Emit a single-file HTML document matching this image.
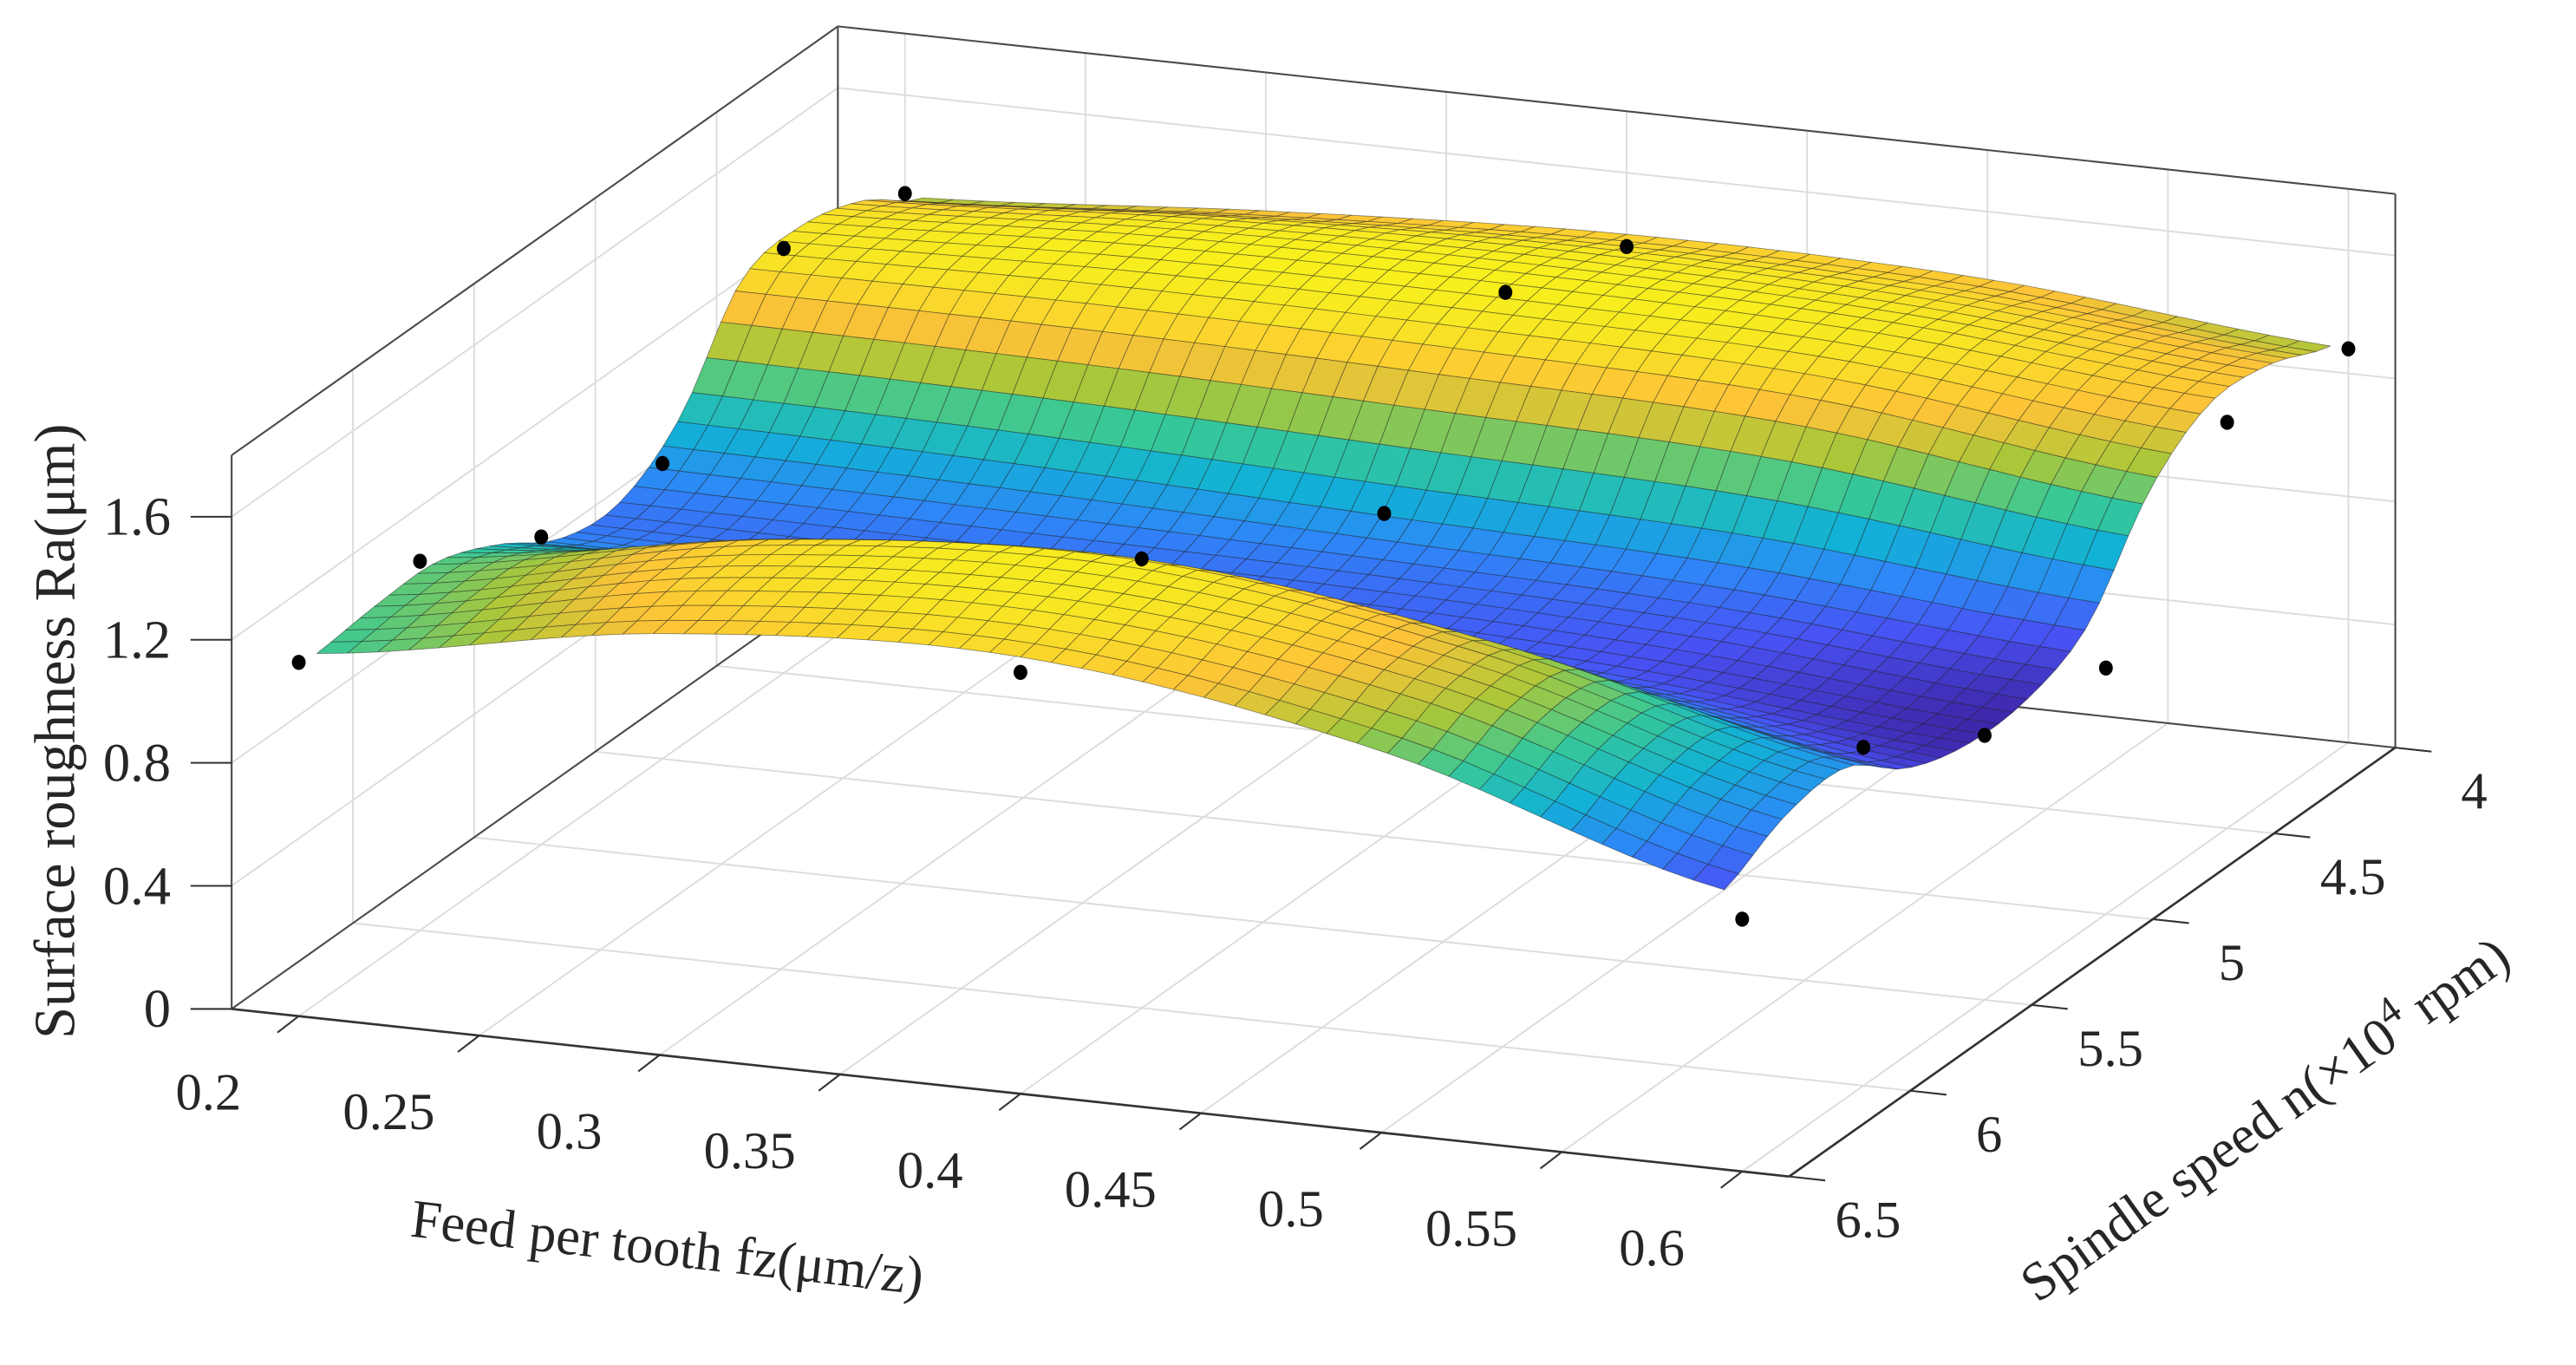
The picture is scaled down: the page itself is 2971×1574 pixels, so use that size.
<!DOCTYPE html>
<html><head><meta charset="utf-8">
<style>
html,body{margin:0;padding:0;background:#fff;}
svg{display:block;}
svg text{font-family:"Liberation Serif","DejaVu Serif",serif;fill:#262626;}
</style></head>
<body>
<svg id="chart" width="2971" height="1574" viewBox="0 0 1568 830.7" preserveAspectRatio="none" xmlns="http://www.w3.org/2000/svg" font-family="'Liberation Serif', 'DejaVu Serif', serif">
<g id="walls"></g>
<g id="surf"></g>
<g id="dots"></g>
<g id="axes"></g>
<text x="0" y="0" font-family="Liberation Serif, serif" font-size="35" text-anchor="middle" transform="translate(45,445) rotate(-90)">Surface roughness Ra(μm)</text>
<text x="0" y="0" font-family="Liberation Serif, serif" font-size="33" text-anchor="middle" transform="translate(405,770) rotate(6.5)">Feed per tooth fz(μm/z)</text>
<text x="0" y="0" font-family="Liberation Serif, serif" font-size="33" text-anchor="middle" transform="translate(1385,690) rotate(-35.5)">Spindle speed n(×10<tspan dy="-13" font-size="24">4</tspan><tspan dy="13"> rpm)</tspan></text>
</svg>
<script>
// ---- data ----
const fzNodes = [0.2, 0.3, 0.4, 0.5, 0.6];
const nNodes = [4, 4.25, 4.5, 4.75, 5, 5.25, 5.5, 5.75, 6, 6.25, 6.5];
const zRow400 = [1.27,1.35,1.40,1.38,1.28];
const zRow425 = [1.40,1.46,1.48,1.45,1.36];
const zRow450 = [1.46,1.50,1.50,1.47,1.37];
const zRow475 = [1.42,1.42,1.40,1.36,1.22];
const zRow500 = [1.12,1.10,1.06,1.02,0.93];
const zRow525 = [0.98,0.97,0.96,0.92,0.83];
const zRow550 = [1.00,0.99,0.98,0.92,0.82];
const zRow575 = [1.12,1.18,1.20,1.08,0.88];
const zRow600 = [1.20,1.40,1.46,1.30,1.02];
const zRow625 = [1.20,1.42,1.47,1.32,1.00];
const zRow650 = [1.18,1.37,1.42,1.24,0.90];
const zGrid = [zRow400,zRow425,zRow450,zRow475,zRow500,zRow525,zRow550,zRow575,zRow600,zRow625,zRow650];
const ptFz = [0.2,0.2,0.2,0.2,0.2,0.2, 0.4,0.4,0.4,0.4,0.4, 0.6,0.6,0.6,0.6,0.6,0.6];
const ptN  = [6.5,6,5.5,5,4.5,4, 6.5,6,5,4.5,4, 6.5,6,5.5,5,4.5,4];
const ptZ  = [1.15,1.20,1.00,0.96,1.38,1.28, 1.37,1.46,1.05,1.49,1.36, 0.82,1.10,0.86,0.80,1.32,1.28];
const fzTicks = [0.2,0.25,0.3,0.35,0.4,0.45,0.5,0.55,0.6];
const fzTickLabels = ["0.2","0.25","0.3","0.35","0.4","0.45","0.5","0.55","0.6"];
const nTicks = [4,4.5,5,5.5,6,6.5];
const nTickLabels = ["4","4.5","5","5.5","6","6.5"];
const zTicks = [0,0.4,0.8,1.2,1.6];
const zTickLabels = ["0","0.4","0.8","1.2","1.6"];

// ---- axes ----
const FZ0=0.1814, FZ1=0.613, N0=4, N1=6.5, ZMAX=1.8;
function P(fz,n,z){
  return [141 + (fz-FZ0)*2196.5 - (n-N1)*147.6,
          614 + (fz-FZ0)*236.3 + (n-N1)*104.4 - z*187.2];
}
const NS="http://www.w3.org/2000/svg";
function mk(tag,attrs,parent){const e=document.createElementNS(NS,tag);for(const k in attrs)e.setAttribute(k,attrs[k]);parent.appendChild(e);return e;}
function line(a,b,stroke,w,parent,name){
  const e=mk('line',{x1:a[0],y1:a[1],x2:b[0],y2:b[1],stroke:stroke,'stroke-width':w},parent);
  
  
  return e;
}
const walls=document.getElementById('walls');
const GRID='#dcdcdc', BOX='#4a4a4a';
zTicks.forEach(z=>{ if(z===0) return;
  line(P(FZ0,N1,z),P(FZ0,N0,z),GRID,1,walls,'z-grid-left');
  line(P(FZ0,N0,z),P(FZ1,N0,z),GRID,1,walls,'z-grid-back');
});
fzTicks.forEach(f=>{
  line(P(f,N0,0),P(f,N1,0),GRID,1,walls,'fz-grid-floor');
  line(P(f,N0,0),P(f,N0,ZMAX),GRID,1,walls,'fz-grid-back');
});
nTicks.forEach(n=>{
  line(P(FZ0,n,0),P(FZ1,n,0),GRID,1,walls,'n-grid-floor');
  line(P(FZ0,n,0),P(FZ0,n,ZMAX),GRID,1,walls,'n-grid-left');
});
line(P(FZ0,N1,0),P(FZ0,N1,ZMAX),BOX,1.1,walls,'box-edge');
line(P(FZ0,N0,0),P(FZ0,N0,ZMAX),BOX,1.1,walls,'box-edge');
line(P(FZ1,N0,0),P(FZ1,N0,ZMAX),BOX,1.1,walls,'box-edge');
line(P(FZ0,N1,ZMAX),P(FZ0,N0,ZMAX),BOX,1.1,walls,'box-edge');
line(P(FZ0,N0,ZMAX),P(FZ1,N0,ZMAX),BOX,1.1,walls,'box-edge');
line(P(FZ0,N1,0),P(FZ0,N0,0),BOX,1.1,walls,'box-edge');
line(P(FZ0,N0,0),P(FZ1,N0,0),BOX,1.1,walls,'box-edge');

// ---- surface ----
function cr(p0,p1,p2,p3,t){return 0.5*((2*p1)+(-p0+p2)*t+(2*p0-5*p1+4*p2-p3)*t*t+(-p0+3*p1-3*p2+p3)*t*t*t);}
function interp1(nodes,vals,x){
  let i=0; while(i<nodes.length-2 && x>nodes[i+1]) i++;
  const t=(x-nodes[i])/(nodes[i+1]-nodes[i]);
  const g=k=>vals[Math.max(0,Math.min(vals.length-1,k))];
  return cr(g(i-1),g(i),g(i+1),g(i+2),t);
}
function Z(fz,n){
  const col=zGrid.map(r=>interp1(fzNodes,r,fz));
  return interp1(nNodes,col,n);
}
const PAR=[[0,[62,38,168]],[0.125,[72,82,244]],[0.25,[46,135,247]],[0.375,[18,177,214]],[0.5,[55,200,151]],[0.625,[171,199,57]],[0.75,[254,195,56]],[0.875,[247,231,35]],[1,[249,251,21]]];
function parula(t){t=Math.max(0,Math.min(1,t));
  for(let i=0;i<PAR.length-1;i++){const a=PAR[i],b=PAR[i+1];
    if(t<=b[0]){const u=(t-a[0])/(b[0]-a[0]);
      return 'rgb('+a[1].map((c,k)=>Math.round(c+(b[1][k]-c)*u)).join(',')+')';}}
  return 'rgb(249,251,21)';
}
const surf=document.getElementById('surf');
const NF=46, NN=42, SF0=0.205, SF1=0.595;
const G=[];
let zmin=1e9,zmax=-1e9;
for(let j=0;j<=NN;j++){G.push([]);for(let i=0;i<=NF;i++){
  const f=SF0+(SF1-SF0)*i/NF, n=N0+(N1-N0)*j/NN, z=Z(f,n);
  zmin=Math.min(zmin,z);zmax=Math.max(zmax,z);G[j].push([f,n,z]);}}
const cMax = zmax + 0.05;
const faces=[];
for(let j=0;j<NN;j++)for(let i=0;i<NF;i++){
  const q=[G[j][i],G[j][i+1],G[j+1][i+1],G[j+1][i]];
  const zc=(q[0][2]+q[1][2]+q[2][2]+q[3][2])/4;
  const fc=(q[0][0]+q[1][0])/2, nc=(q[0][1]+q[3][1])/2;
  faces.push({q:q,zc:zc,d:P(fc,nc,0)[1]});
}
faces.sort((a,b)=>a.d-b.d);
faces.forEach(fc=>{
  const pts=fc.q.map(p=>P(p[0],p[1],p[2]).map(v=>v.toFixed(1)).join(',')).join(' ');
  const c=parula((fc.zc-zmin)/(cMax-zmin));
  const e=mk('polygon',{points:pts,fill:c,stroke:'rgba(30,30,30,0.5)','stroke-width':0.45,'stroke-linejoin':'round'},surf);
  
  
});

// ---- points ----
const dots=document.getElementById('dots');
ptZ.forEach((z,k)=>{
  const p=P(ptFz[k],ptN[k],z);
  const e=mk('ellipse',{cx:p[0],cy:p[1],rx:4.2,ry:4.6,fill:'#000'},dots);
  
  
});

// ---- axes, ticks, labels ----
const axes=document.getElementById('axes');
line(P(FZ0,N1,0),P(FZ1,N1,0),'#333',1.4,axes,'x-axis-line');
line(P(FZ1,N1,0),P(FZ1,N0,0),'#333',1.4,axes,'y-axis-line');
zTicks.forEach((z,k)=>{
  const p=P(FZ0,N1,z);
  line([p[0]-25,p[1]],p,'#333',1.1,axes,'z-tick');
  const t=mk('text',{x:104,y:p[1]+11,'font-size':33,'text-anchor':'end','font-family':'Liberation Serif, serif'},axes);
  t.textContent=zTickLabels[k];
  
  
});
fzTicks.forEach((f,k)=>{
  const p=P(f,N1,0);
  line(p,[p[0]-13,p[1]+10],'#333',1.1,axes,'x-tick');
  const t=mk('text',{x:p[0]-55,y:p[1]+57,'font-size':32,'text-anchor':'middle','font-family':'Liberation Serif, serif'},axes);
  t.textContent=fzTickLabels[k];
  
  
});
nTicks.forEach((n,k)=>{
  const p=P(FZ1,n,0);
  line(p,[p[0]+22,p[1]+2.4],'#333',1.1,axes,'y-tick');
  const t=mk('text',{x:p[0]+48,y:p[1]+37,'font-size':32,'text-anchor':'middle','font-family':'Liberation Serif, serif'},axes);
  t.textContent=nTickLabels[k];
  
  
});
</script>
</body></html>
